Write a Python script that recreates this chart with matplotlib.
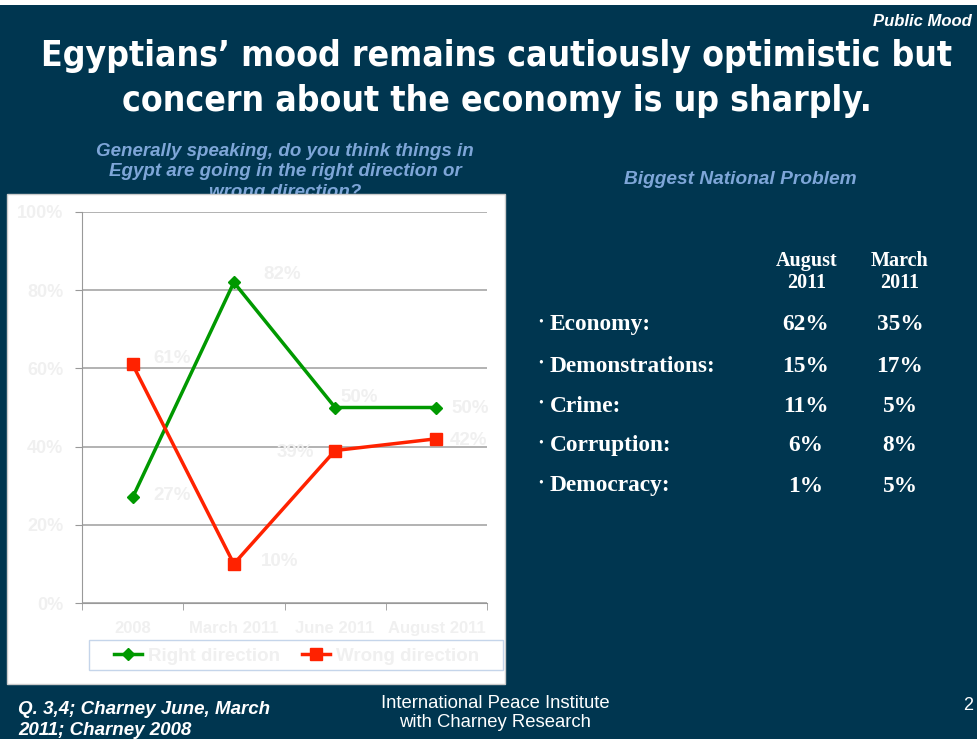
import matplotlib.pyplot as plt
from matplotlib.patches import Rectangle

# line chart data
periods = ["2008", "March 2011", "June 2011", "August 2011"]
right_direction = [27, 82, 50, 50]
wrong_direction = [61, 10, 39, 42]

# label offsets in pixels (dx, dy) for each point
right_offsets = [(40, 2), (48, 8), (24, 10), (34, -1)]
wrong_offsets = [(40, 6), (46, 2), (-40, -2), (32, -2)]

# table data
problems = ["Economy:", "Demonstrations:", "Crime:", "Corruption:", "Democracy:"]
august_2011 = ["62%", "15%", "11%", "6%", "1%"]
march_2011 = ["35%", "17%", "5%", "8%", "5%"]

bg = "#003650"
W, H = 977, 739

fig = plt.figure(figsize=(W / 100, H / 100), dpi=100)
fig.patch.set_facecolor("white")


def fx(px):
    return px / W


def fy(py):
    return 1 - py / H


# dark slide background
fig.patches.append(Rectangle((fx(0), 0), 1, fy(5), transform=fig.transFigure,
                             facecolor=bg, edgecolor="none", zorder=0))
# white chart panel
fig.patches.append(Rectangle((fx(7), fy(684)), fx(498), 490 / H, transform=fig.transFigure,
                             facecolor="white", edgecolor="#cccccc", lw=1, zorder=5))

fig.text(fx(972), fy(22), "Public Mood", ha="right", va="center", color="white",
         fontsize=12, fontweight="bold", style="italic", family="Liberation Sans")
for txt, y in [("Egyptians\u2019 mood remains cautiously optimistic but", 56),
               ("concern about the economy is up sharply.", 101)]:
    fig.text(fx(497), fy(y), txt, ha="center", va="center", color="white",
             fontsize=25.5, fontweight="heavy", family="DejaVu Sans",
             fontstretch="condensed")

sub_color = "#7ea6d8"
fig.text(fx(285), fy(172), "Generally speaking, do you think things in\n"
         "Egypt are going in the right direction or\nwrong direction?",
         ha="center", va="center", color=sub_color, fontsize=13.5, fontweight="bold",
         style="italic", family="Liberation Sans", linespacing=1.27, zorder=3)
fig.text(fx(740), fy(179), "Biggest National Problem", ha="center", va="center",
         color=sub_color, fontsize=13.8, fontweight="bold", style="italic",
         family="Liberation Sans")

# table on the right
serif = "Liberation Serif"
fig.text(fx(807), fy(272), "August\n2011", ha="center", va="center", color="white",
         fontsize=14.5, fontweight="bold", family=serif, linespacing=1.15)
fig.text(fx(900), fy(272), "March\n2011", ha="center", va="center", color="white",
         fontsize=14.5, fontweight="bold", family=serif, linespacing=1.15)
row_y = [325, 366, 406, 446, 486]
for name, a, m, y in zip(problems, august_2011, march_2011, row_y):
    fig.text(fx(541), fy(y - 3), "\u2022", ha="center", va="center", color="white",
             fontsize=10, family=serif)
    fig.text(fx(550), fy(y), name, ha="left", va="center", color="white",
             fontsize=16.8, fontweight="bold", family=serif)
    fig.text(fx(806), fy(y), a, ha="center", va="center", color="white",
             fontsize=16.8, fontweight="bold", family=serif)
    fig.text(fx(900), fy(y), m, ha="center", va="center", color="white",
             fontsize=16.8, fontweight="bold", family=serif)

# footer
fig.text(fx(18), fy(720), "Q. 3,4; Charney June, March\n2011; Charney 2008", ha="left",
         va="center", color="white", fontsize=13.5, fontweight="bold", style="italic",
         family="Liberation Sans", linespacing=1.25)
fig.text(fx(495), fy(713), "International Peace Institute\nwith Charney Research",
         ha="center", va="center", color="white", fontsize=13.3,
         family="Liberation Sans", linespacing=1.2)
fig.text(fx(968), fy(706), "2", ha="center", va="center", color="white", fontsize=13,
         family="Liberation Sans")

# line chart
ax = fig.add_axes([fx(82), fy(603), fx(487 - 82), (603 - 212) / H])
ax.set_zorder(10)
ax.patch.set_alpha(0)
x = list(range(len(periods)))
light = "#f0f0f0"

l1, = ax.plot(x, right_direction, color="#009900", lw=2.5, marker="D", ms=6,
              label="Right direction", clip_on=False)
l2, = ax.plot(x, wrong_direction, color="#ff2200", lw=2.5, marker="s", ms=8,
              label="Wrong direction", clip_on=False)

for xi, v, off in zip(x, right_direction, right_offsets):
    ax.annotate(f"{v}%", (xi, v), xytext=off, textcoords="offset pixels",
                ha="center", va="center", color=light, fontsize=13.5, fontweight="bold",
                family="Liberation Sans")
for xi, v, off in zip(x, wrong_direction, wrong_offsets):
    ax.annotate(f"{v}%", (xi, v), xytext=off, textcoords="offset pixels",
                ha="center", va="center", color=light, fontsize=13.5, fontweight="bold",
                family="Liberation Sans")

ax.set_xlim(-0.5, len(periods) - 0.5)
ax.set_ylim(0, 100)
ax.set_yticks(range(0, 101, 20))
ax.set_yticklabels([f"{v}%" for v in range(0, 101, 20)])
ax.set_xticks(x)
ax.set_xticklabels(periods)
ax.set_xticks([i - 0.5 for i in range(len(periods) + 1)], minor=True)
ax.tick_params(axis="x", which="major", length=0, pad=13)
ax.tick_params(axis="x", which="minor", length=5, color="#999999", direction="out")
ax.tick_params(axis="y", length=5, color="#999999", direction="out", pad=8.5)
for lab in ax.get_xticklabels():
    lab.set_fontsize(12)
for lab in ax.get_yticklabels():
    lab.set_fontsize(13)
for lab in ax.get_xticklabels() + ax.get_yticklabels():
    lab.set_color(light)
    lab.set_fontweight("bold")
    lab.set_family("Liberation Sans")
ax.grid(axis="y", color="#a6a6a6", lw=1.2)
ax.set_axisbelow(True)
for s in ["top", "right"]:
    ax.spines[s].set_visible(False)
ax.spines["left"].set_color("#999999")
ax.spines["bottom"].set_color("#999999")

# legend frame and legend
fig.patches.append(Rectangle((fx(89), fy(670)), fx(414), 30 / H, transform=fig.transFigure,
                             facecolor="none", edgecolor="#c5d5ea", lw=1, zorder=6))
leg = fig.legend(handles=[l1, l2], loc="center left", bbox_to_anchor=(fx(99), fy(656)),
                 ncol=2, frameon=False, handlelength=1.5, handletextpad=0.3,
                 columnspacing=1.2,
                 prop={"family": "Liberation Sans", "weight": "bold", "size": 13.5},
                 borderpad=0.3)
leg.set_zorder(11)
for t in leg.get_texts():
    t.set_color(light)

fig.savefig("out.png", dpi=100, facecolor=fig.get_facecolor())
